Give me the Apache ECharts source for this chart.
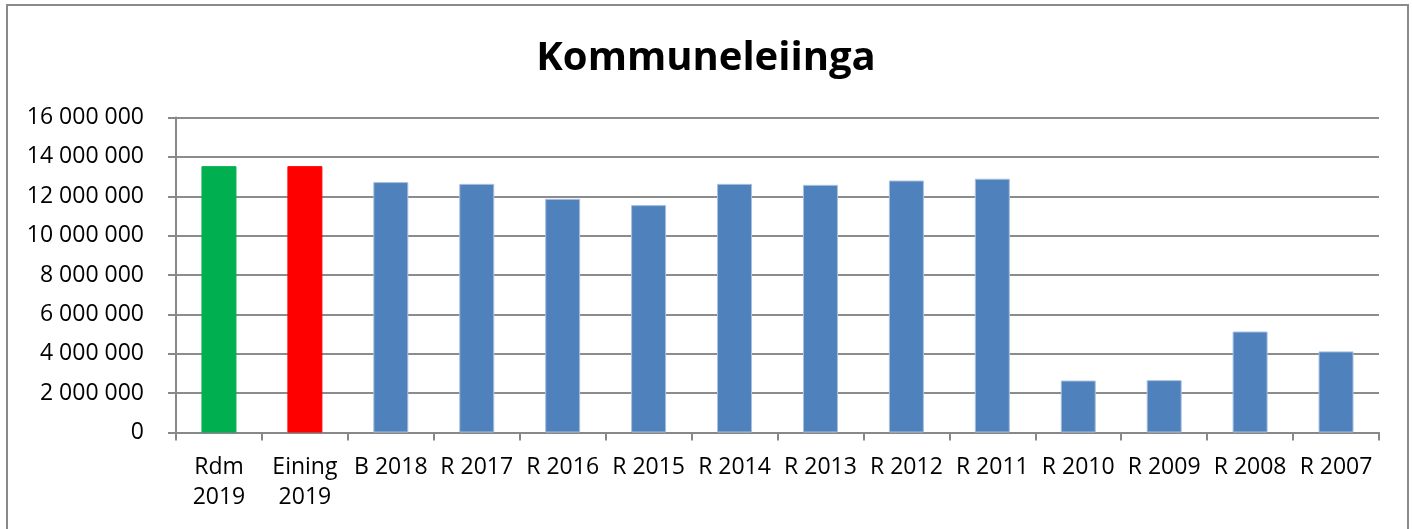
<!DOCTYPE html>
<html>
<head>
<meta charset="utf-8">
<title>Kommuneleiinga</title>
<script src="https://cdn.jsdelivr.net/npm/echarts@6/dist/echarts.min.js"></script>
<style>
    html, body { margin: 0; padding: 0; background: #fff; }
    #leigeChart { width: 1412px; height: 529px; }
</style>
</head>
<body>
<div id="leigeChart"></div>
<script>
// data
var categories = ['Rdm\n2019', 'Eining\n2019', 'B 2018', 'R 2017', 'R 2016', 'R 2015', 'R 2014',
    'R 2013', 'R 2012', 'R 2011', 'R 2010', 'R 2009', 'R 2008', 'R 2007'];
var values = [13530000, 13530000, 12720000, 12630000, 11870000, 11550000, 12630000,
    12580000, 12800000, 12890000, 2640000, 2660000, 5130000, 4120000];
var yTicks = [0, 2000000, 4000000, 6000000, 8000000, 10000000, 12000000, 14000000, 16000000];

// farger: fyrste to er budsjett, resten rekneskap
var barColors = ['#00b050', '#ff0000'];
var defaultColor = '#4f81bd';

var dom = document.getElementById('leigeChart');
var myChart = echarts.init(dom);

function fmt(v) {
    return String(v).replace(/\B(?=(\d{3})+(?!\d))/g, ' ');
}

var seriesData = values.map(function(v, i) {
    var c = barColors[i] || defaultColor;
    return {
        value: v,
        itemStyle: {
            color: c,
            borderColor: barColors[i] ? c : '#a9c1de',
            borderWidth: 1
        }
    };
});

var option = {
    animation: false,
    textStyle: { fontFamily: 'Open Sans' },
    title: {
        text: 'Kommuneleiinga',
        left: 'center',
        top: 34,
        textStyle: {
            fontFamily: 'Open Sans',
            fontWeight: 'bold',
            fontSize: 40,
            color: '#000'
        }
    },
    graphic: [{
        type: 'rect',
        shape: { x: 7, y: 5, width: 1401, height: 540 },
        style: { fill: 'none', stroke: '#8a8a8a', lineWidth: 2 },
        silent: true
    }],
    grid: {
        left: 176,
        right: 33,
        top: 117.5,
        bottom: 96.5,
        containLabel: false
    },
    xAxis: {
        type: 'category',
        data: categories,
        axisLine: { lineStyle: { color: '#888', width: 2 } },
        axisTick: { show: true, length: 8, lineStyle: { color: '#888', width: 2 } },
        axisLabel: {
            color: '#000',
            fontSize: 23,
            margin: 20,
            lineHeight: 30,
            interval: 0,
            align: 'center'
        }
    },
    yAxis: {
        type: 'value',
        min: yTicks[0],
        max: yTicks[yTicks.length - 1],
        interval: yTicks[1] - yTicks[0],
        axisLine: { show: true, lineStyle: { color: '#888', width: 2 } },
        axisTick: { show: true, length: 8, inside: false, lineStyle: { color: '#888', width: 2 } },
        splitLine: { lineStyle: { color: '#8c8c8c', width: 2 } },
        axisLabel: {
            color: '#000',
            fontSize: 23,
            margin: 32,
            formatter: function(v) { return fmt(v); }
        }
    },
    series: [{
        name: 'Kommuneleiinga',
        type: 'bar',
        barWidth: 35,
        data: seriesData
    }]
};

myChart.setOption(option, true);

window.addEventListener('resize', function() {
    myChart.resize();
});
</script>
</body>
</html>
